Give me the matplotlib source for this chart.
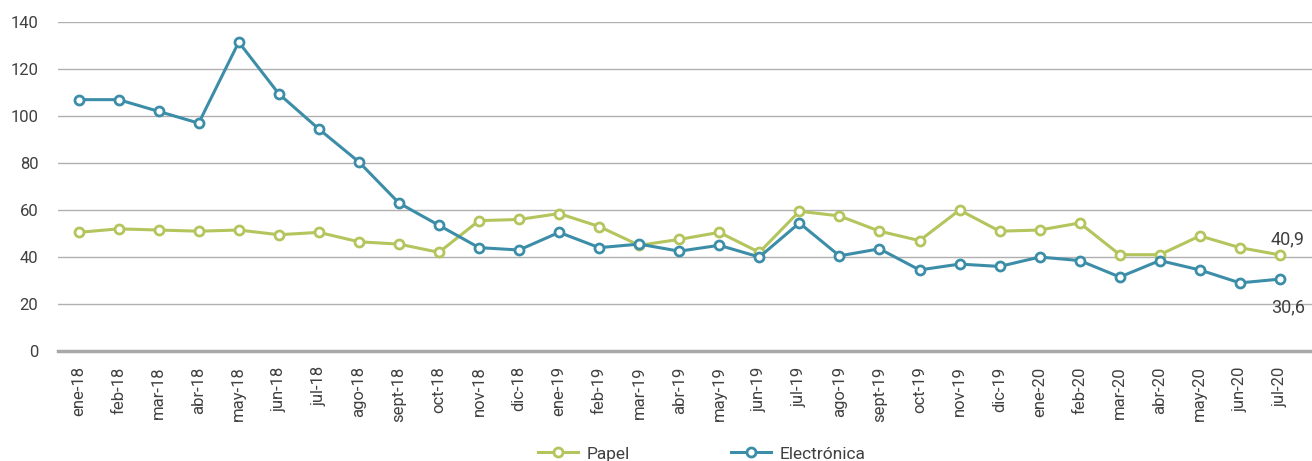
import numpy as np
import matplotlib.pyplot as plt

plt.rcParams['font.family'] = ['Roboto', 'DejaVu Sans']

# === Data ===
meses = ["ene-18", "feb-18", "mar-18", "abr-18", "may-18", "jun-18", "jul-18",
         "ago-18", "sept-18", "oct-18", "nov-18", "dic-18", "ene-19", "feb-19",
         "mar-19", "abr-19", "may-19", "jun-19", "jul-19", "ago-19", "sept-19",
         "oct-19", "nov-19", "dic-19", "ene-20", "feb-20", "mar-20", "abr-20",
         "may-20", "jun-20", "jul-20"]

papel = [50.5, 52, 51.5, 51, 51.5, 49.5, 50.5, 46.5, 45.5, 42, 55.5, 56, 58.5,
         53, 45, 47.5, 50.5, 42, 59.5, 57.5, 51, 47, 60, 51, 51.5, 54.5, 41,
         41, 49, 44, 40.9]

electronica = [107, 107, 102, 97, 131.5, 109.5, 94.5, 80.5, 63, 53.5, 44, 43,
               50.5, 44, 45.5, 42.5, 45, 40, 54.5, 40.5, 43.5, 34.5, 37, 36, 40,
               38.5, 31.5, 38.5, 34.5, 29, 30.6]

c_papel = "#b3c55c"
c_elec = "#3c8ea8"
txt = "#404040"

# === Plot ===
fig = plt.figure(figsize=(13.12, 4.61), dpi=100)
ax = fig.add_axes([0.044, 0.2386, 0.956, 0.7134])

x = np.arange(len(meses))
ax.plot(x, papel, color=c_papel, lw=2.2, marker='o', ms=6.5,
        mfc='white', mec=c_papel, mew=2, label="Papel", zorder=3)
ax.plot(x, electronica, color=c_elec, lw=2.2, marker='o', ms=6.5,
        mfc='white', mec=c_elec, mew=2, label="Electrónica", zorder=3)

# last value labels
ax.text(x[-1] + 0.2, papel[-1] + 6.5, "40,9", fontsize=13, color=txt,
        ha='center', va='center')
ax.text(x[-1] + 0.2, electronica[-1] - 12, "30,6", fontsize=13, color=txt,
        ha='center', va='center')

ax.set_ylim(0, 140)
ax.set_xlim(-0.52, 30.8)
ax.set_yticks(range(0, 141, 20))
ax.set_xticks(x)
ax.set_xticklabels(meses, rotation=90)
ax.tick_params(axis='both', length=0, labelsize=12, labelcolor=txt)
ax.tick_params(axis='x', pad=11)
ax.tick_params(axis='y', pad=14)

ax.grid(axis='y', color='#b0b0b0', lw=1)
ax.set_axisbelow(True)
for s in ['top', 'right', 'left']:
    ax.spines[s].set_visible(False)
ax.spines['bottom'].set_color('#a8a8a8')
ax.spines['bottom'].set_linewidth(2.5)

leg = fig.legend(loc='lower center', bbox_to_anchor=(0.535, -0.035), ncol=2,
                 frameon=False, fontsize=12.5, labelcolor=txt,
                 columnspacing=5.8, handlelength=2.3, handletextpad=0.5)

fig.savefig("out.png", dpi=100)
